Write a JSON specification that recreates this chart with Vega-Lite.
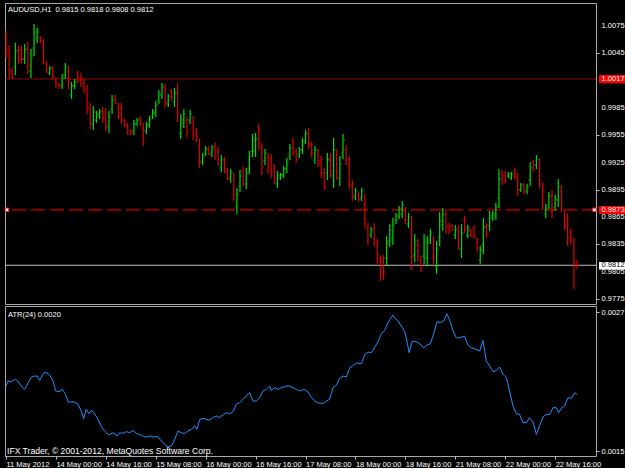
{
"$schema": "https://vega.github.io/schema/vega-lite/v6.json",
"background": "#000000",
"padding": {"left": 2, "top": 2, "right": 0, "bottom": 0},
"spacing": 2,
"bounds": "flush",
"config": {"view": {"stroke": "#a8a8a8", "fill": "#000000"}, "font": "Liberation Sans",
  "axis": {"labelOverlap": false, "labelFlush": false, "labelBound": false, "grid": false, "domain": false, "title": null, "tickSize": 3, "tickColor": "#c0c0c0", "labelColor": "#ffffff", "labelFontSize": 7.5}},
"datasets": {
"bars": [
{"i":0,"o":1.0062,"h":1.00697,"l":1.004,"c":1.00477},
{"i":1,"o":1.00444,"h":1.00532,"l":1.00169,"c":1.00257},
{"i":2,"o":1.00257,"h":1.0029,"l":1.00169,"c":1.00202},
{"i":3,"o":1.00301,"h":1.00565,"l":1.00213,"c":1.00477},
{"i":4,"o":1.00488,"h":1.00532,"l":1.00334,"c":1.00378},
{"i":5,"o":1.00488,"h":1.00532,"l":1.00345,"c":1.00389},
{"i":6,"o":1.00389,"h":1.00554,"l":1.00334,"c":1.00499},
{"i":7,"o":1.00488,"h":1.00576,"l":1.00224,"c":1.00312},
{"i":8,"o":1.00257,"h":1.00499,"l":1.0018,"c":1.00422},
{"i":9,"o":1.0051,"h":1.00774,"l":1.00422,"c":1.00686},
{"i":10,"o":1.00609,"h":1.0073,"l":1.00565,"c":1.00686},
{"i":11,"o":1.0062,"h":1.00642,"l":1.00565,"c":1.00587},
{"i":12,"o":1.00543,"h":1.00609,"l":1.00334,"c":1.004},
{"i":13,"o":1.00334,"h":1.00367,"l":1.00235,"c":1.00268},
{"i":14,"o":1.00235,"h":1.00312,"l":1.00213,"c":1.0029},
{"i":15,"o":1.00279,"h":1.00312,"l":1.00169,"c":1.00202},
{"i":16,"o":1.00147,"h":1.0018,"l":1.0007,"c":1.00103},
{"i":17,"o":1.00103,"h":1.00125,"l":1.00059,"c":1.00081},
{"i":18,"o":1.00103,"h":1.00224,"l":1.00059,"c":1.0018},
{"i":19,"o":1.00213,"h":1.00345,"l":1.00169,"c":1.00301},
{"i":20,"o":1.00246,"h":1.00312,"l":1.00059,"c":1.00125},
{"i":21,"o":0.99993,"h":1.00136,"l":0.99949,"c":1.00092},
{"i":22,"o":1.00092,"h":1.00169,"l":1.00059,"c":1.00136},
{"i":23,"o":1.00224,"h":1.00257,"l":1.00125,"c":1.00158},
{"i":24,"o":1.00191,"h":1.00235,"l":1.00081,"c":1.00125},
{"i":25,"o":1.00125,"h":1.00169,"l":1.00015,"c":1.00059},
{"i":26,"o":1.00026,"h":1.00103,"l":0.99784,"c":0.99861},
{"i":27,"o":0.99828,"h":0.99905,"l":0.99619,"c":0.99696},
{"i":28,"o":0.99674,"h":0.99872,"l":0.99608,"c":0.99806},
{"i":29,"o":0.99718,"h":0.99817,"l":0.99685,"c":0.99784},
{"i":30,"o":0.99762,"h":0.99839,"l":0.99729,"c":0.99806},
{"i":31,"o":0.99817,"h":0.99861,"l":0.99685,"c":0.99729},
{"i":32,"o":0.99784,"h":0.9985,"l":0.99597,"c":0.99663},
{"i":33,"o":0.99641,"h":0.99817,"l":0.99575,"c":0.99751},
{"i":34,"o":0.99839,"h":0.99993,"l":0.99784,"c":0.99938},
{"i":35,"o":0.99971,"h":0.99993,"l":0.99894,"c":0.99916},
{"i":36,"o":0.99861,"h":0.99905,"l":0.99729,"c":0.99773},
{"i":37,"o":0.9985,"h":0.99905,"l":0.99674,"c":0.99729},
{"i":38,"o":0.99707,"h":0.99729,"l":0.99641,"c":0.99663},
{"i":39,"o":0.99652,"h":0.99685,"l":0.99553,"c":0.99586},
{"i":40,"o":0.99597,"h":0.99619,"l":0.99553,"c":0.99575},
{"i":41,"o":0.99597,"h":0.99718,"l":0.99553,"c":0.99674},
{"i":42,"o":0.99674,"h":0.9974,"l":0.99652,"c":0.99718},
{"i":43,"o":0.99729,"h":0.99762,"l":0.99652,"c":0.99685},
{"i":44,"o":0.99619,"h":0.99685,"l":0.99432,"c":0.99498},
{"i":45,"o":0.99597,"h":0.99696,"l":0.99564,"c":0.99663},
{"i":46,"o":0.99663,"h":0.99762,"l":0.9963,"c":0.99729},
{"i":47,"o":0.99762,"h":0.99839,"l":0.99729,"c":0.99806},
{"i":48,"o":0.99795,"h":0.99927,"l":0.99751,"c":0.99883},
{"i":49,"o":0.99938,"h":1.00048,"l":0.99894,"c":1.00004},
{"i":50,"o":0.99993,"h":1.00125,"l":0.99949,"c":1.00081},
{"i":51,"o":1.00048,"h":1.00114,"l":0.9985,"c":0.99916},
{"i":52,"o":0.99894,"h":1.00004,"l":0.99861,"c":0.99971},
{"i":53,"o":1.00026,"h":1.00059,"l":0.99927,"c":0.9996},
{"i":54,"o":0.99916,"h":1.0007,"l":0.99861,"c":1.00015},
{"i":55,"o":1.00015,"h":1.00125,"l":0.99696,"c":0.99806},
{"i":56,"o":0.99575,"h":0.99784,"l":0.99509,"c":0.99718},
{"i":57,"o":0.99685,"h":0.99839,"l":0.9963,"c":0.99784},
{"i":58,"o":0.99707,"h":0.99762,"l":0.99531,"c":0.99586},
{"i":59,"o":0.99718,"h":0.99828,"l":0.99674,"c":0.99784},
{"i":60,"o":0.99696,"h":0.99762,"l":0.99498,"c":0.99564},
{"i":61,"o":0.99586,"h":0.9963,"l":0.99476,"c":0.9952},
{"i":62,"o":0.99432,"h":0.99509,"l":0.9919,"c":0.99267},
{"i":63,"o":0.99256,"h":0.99355,"l":0.99223,"c":0.99322},
{"i":64,"o":0.99355,"h":0.99432,"l":0.99322,"c":0.99399},
{"i":65,"o":0.9941,"h":0.99432,"l":0.99333,"c":0.99355},
{"i":66,"o":0.99344,"h":0.99443,"l":0.99311,"c":0.9941},
{"i":67,"o":0.99432,"h":0.99476,"l":0.99278,"c":0.99322},
{"i":68,"o":0.99366,"h":0.99421,"l":0.99212,"c":0.99267},
{"i":69,"o":0.9919,"h":0.99333,"l":0.99146,"c":0.99289},
{"i":70,"o":0.99267,"h":0.99311,"l":0.99135,"c":0.99179},
{"i":71,"o":0.99157,"h":0.9919,"l":0.99058,"c":0.99091},
{"i":72,"o":0.99069,"h":0.99179,"l":0.99025,"c":0.99135},
{"i":73,"o":0.99058,"h":0.99135,"l":0.98827,"c":0.98904},
{"i":74,"o":0.98761,"h":0.9897,"l":0.98684,"c":0.98893},
{"i":75,"o":0.98992,"h":0.99168,"l":0.98926,"c":0.99102},
{"i":76,"o":0.99157,"h":0.99212,"l":0.98992,"c":0.99047},
{"i":77,"o":0.99014,"h":0.9919,"l":0.98959,"c":0.99135},
{"i":78,"o":0.9919,"h":0.99377,"l":0.99124,"c":0.99311},
{"i":79,"o":0.99377,"h":0.99564,"l":0.99311,"c":0.99498},
{"i":80,"o":0.99377,"h":0.99575,"l":0.99311,"c":0.99509},
{"i":81,"o":0.99597,"h":0.99674,"l":0.99388,"c":0.99465},
{"i":82,"o":0.99377,"h":0.99465,"l":0.99113,"c":0.99201},
{"i":83,"o":0.99267,"h":0.99399,"l":0.99223,"c":0.99355},
{"i":84,"o":0.993,"h":0.99355,"l":0.99124,"c":0.99179},
{"i":85,"o":0.99278,"h":0.99344,"l":0.9908,"c":0.99146},
{"i":86,"o":0.99179,"h":0.99234,"l":0.99014,"c":0.99069},
{"i":87,"o":0.99014,"h":0.99157,"l":0.9897,"c":0.99113},
{"i":88,"o":0.9908,"h":0.99135,"l":0.99058,"c":0.99113},
{"i":89,"o":0.99113,"h":0.99212,"l":0.9908,"c":0.99179},
{"i":90,"o":0.99179,"h":0.993,"l":0.99135,"c":0.99256},
{"i":91,"o":0.99322,"h":0.99454,"l":0.99278,"c":0.9941},
{"i":92,"o":0.99476,"h":0.9952,"l":0.99322,"c":0.99366},
{"i":93,"o":0.99366,"h":0.9941,"l":0.99245,"c":0.99289},
{"i":94,"o":0.99333,"h":0.99421,"l":0.993,"c":0.99388},
{"i":95,"o":0.99388,"h":0.9952,"l":0.99344,"c":0.99476},
{"i":96,"o":0.99498,"h":0.99608,"l":0.99454,"c":0.99564},
{"i":97,"o":0.99575,"h":0.9963,"l":0.99399,"c":0.99454},
{"i":98,"o":0.99432,"h":0.99476,"l":0.993,"c":0.99344},
{"i":99,"o":0.99278,"h":0.99432,"l":0.99234,"c":0.99388},
{"i":100,"o":0.99355,"h":0.99399,"l":0.99201,"c":0.99245},
{"i":101,"o":0.99267,"h":0.99322,"l":0.9908,"c":0.99135},
{"i":102,"o":0.99135,"h":0.9919,"l":0.98948,"c":0.99003},
{"i":103,"o":0.99135,"h":0.99355,"l":0.99058,"c":0.99278},
{"i":104,"o":0.99289,"h":0.99355,"l":0.9908,"c":0.99146},
{"i":105,"o":0.99102,"h":0.9952,"l":0.9897,"c":0.99388},
{"i":106,"o":0.99311,"h":0.99399,"l":0.99058,"c":0.99146},
{"i":107,"o":0.9908,"h":0.99322,"l":0.98992,"c":0.99234},
{"i":108,"o":0.99355,"h":0.99564,"l":0.99289,"c":0.99498},
{"i":109,"o":0.99388,"h":0.99443,"l":0.99223,"c":0.99278},
{"i":110,"o":0.99234,"h":0.99322,"l":0.98959,"c":0.99047},
{"i":111,"o":0.99003,"h":0.99058,"l":0.98827,"c":0.98882},
{"i":112,"o":0.98871,"h":0.9897,"l":0.98838,"c":0.98937},
{"i":113,"o":0.98893,"h":0.98926,"l":0.98816,"c":0.98849},
{"i":114,"o":0.9886,"h":0.9897,"l":0.98827,"c":0.98937},
{"i":115,"o":0.98805,"h":0.98904,"l":0.9853,"c":0.98629},
{"i":116,"o":0.9853,"h":0.98585,"l":0.98343,"c":0.98398},
{"i":117,"o":0.98453,"h":0.98541,"l":0.9842,"c":0.98508},
{"i":118,"o":0.98519,"h":0.98585,"l":0.98332,"c":0.98398},
{"i":119,"o":0.98343,"h":0.98409,"l":0.98134,"c":0.982},
{"i":120,"o":0.98156,"h":0.98233,"l":0.97947,"c":0.98024},
{"i":121,"o":0.98167,"h":0.98233,"l":0.97958,"c":0.98024},
{"i":122,"o":0.982,"h":0.98442,"l":0.98112,"c":0.98354},
{"i":123,"o":0.98387,"h":0.98574,"l":0.98321,"c":0.98508},
{"i":124,"o":0.9842,"h":0.9864,"l":0.98343,"c":0.98563},
{"i":125,"o":0.98607,"h":0.98695,"l":0.98574,"c":0.98662},
{"i":126,"o":0.98662,"h":0.98772,"l":0.98629,"c":0.98739},
{"i":127,"o":0.98684,"h":0.98827,"l":0.9864,"c":0.98783},
{"i":128,"o":0.98717,"h":0.98761,"l":0.98574,"c":0.98618},
{"i":129,"o":0.98574,"h":0.98695,"l":0.9853,"c":0.98651},
{"i":130,"o":0.98519,"h":0.98662,"l":0.98068,"c":0.98211},
{"i":131,"o":0.98233,"h":0.98464,"l":0.98156,"c":0.98387},
{"i":132,"o":0.98343,"h":0.98409,"l":0.98156,"c":0.98222},
{"i":133,"o":0.98178,"h":0.98222,"l":0.98046,"c":0.9809},
{"i":134,"o":0.98222,"h":0.98464,"l":0.98134,"c":0.98376},
{"i":135,"o":0.982,"h":0.98442,"l":0.98123,"c":0.98365},
{"i":136,"o":0.98398,"h":0.98519,"l":0.98354,"c":0.98475},
{"i":137,"o":0.98365,"h":0.98442,"l":0.98134,"c":0.98211},
{"i":138,"o":0.98112,"h":0.98387,"l":0.98024,"c":0.98299},
{"i":139,"o":0.98431,"h":0.98706,"l":0.98332,"c":0.98607},
{"i":140,"o":0.98563,"h":0.9875,"l":0.98497,"c":0.98684},
{"i":141,"o":0.98673,"h":0.98739,"l":0.98464,"c":0.9853},
{"i":142,"o":0.98552,"h":0.98585,"l":0.98464,"c":0.98497},
{"i":143,"o":0.98552,"h":0.98574,"l":0.98497,"c":0.98519},
{"i":144,"o":0.98453,"h":0.98563,"l":0.98409,"c":0.98519},
{"i":145,"o":0.98497,"h":0.98563,"l":0.98288,"c":0.98354},
{"i":146,"o":0.98299,"h":0.98574,"l":0.982,"c":0.98475},
{"i":147,"o":0.98618,"h":0.98662,"l":0.98475,"c":0.98519},
{"i":148,"o":0.98453,"h":0.98563,"l":0.9842,"c":0.9853},
{"i":149,"o":0.98497,"h":0.98519,"l":0.98431,"c":0.98453},
{"i":150,"o":0.98519,"h":0.98563,"l":0.98409,"c":0.98453},
{"i":151,"o":0.98376,"h":0.9842,"l":0.98266,"c":0.9831},
{"i":152,"o":0.98178,"h":0.98332,"l":0.98134,"c":0.98288},
{"i":153,"o":0.98343,"h":0.9864,"l":0.98244,"c":0.98541},
{"i":154,"o":0.98541,"h":0.98585,"l":0.9842,"c":0.98464},
{"i":155,"o":0.98552,"h":0.98717,"l":0.98497,"c":0.98662},
{"i":156,"o":0.9864,"h":0.98717,"l":0.98607,"c":0.98684},
{"i":157,"o":0.98662,"h":0.98805,"l":0.98618,"c":0.98761},
{"i":158,"o":0.9886,"h":0.99179,"l":0.9875,"c":0.99069},
{"i":159,"o":0.99124,"h":0.99168,"l":0.99003,"c":0.99047},
{"i":160,"o":0.99124,"h":0.99157,"l":0.99025,"c":0.99058},
{"i":161,"o":0.99102,"h":0.99146,"l":0.9908,"c":0.99124},
{"i":162,"o":0.9908,"h":0.99146,"l":0.99058,"c":0.99124},
{"i":163,"o":0.99157,"h":0.9919,"l":0.99069,"c":0.99102},
{"i":164,"o":0.99069,"h":0.99135,"l":0.98882,"c":0.98948},
{"i":165,"o":0.98948,"h":0.99025,"l":0.98926,"c":0.99003},
{"i":166,"o":0.98992,"h":0.99025,"l":0.98904,"c":0.98937},
{"i":167,"o":0.98937,"h":0.99014,"l":0.98904,"c":0.98981},
{"i":168,"o":0.99058,"h":0.99256,"l":0.98992,"c":0.9919},
{"i":169,"o":0.99245,"h":0.99278,"l":0.99146,"c":0.99179},
{"i":170,"o":0.99223,"h":0.99333,"l":0.99179,"c":0.99289},
{"i":171,"o":0.99212,"h":0.993,"l":0.9897,"c":0.99058},
{"i":172,"o":0.98948,"h":0.99025,"l":0.98728,"c":0.98805},
{"i":173,"o":0.98684,"h":0.98794,"l":0.9864,"c":0.9875},
{"i":174,"o":0.98783,"h":0.98926,"l":0.98739,"c":0.98882},
{"i":175,"o":0.98871,"h":0.98948,"l":0.9864,"c":0.98717},
{"i":176,"o":0.98761,"h":0.98893,"l":0.98717,"c":0.98849},
{"i":177,"o":0.98838,"h":0.99069,"l":0.98761,"c":0.98992},
{"i":178,"o":0.98926,"h":0.99003,"l":0.98706,"c":0.98783},
{"i":179,"o":0.98662,"h":0.98717,"l":0.98508,"c":0.98563},
{"i":180,"o":0.98596,"h":0.98684,"l":0.98332,"c":0.9842},
{"i":181,"o":0.98475,"h":0.98519,"l":0.98354,"c":0.98398},
{"i":182,"o":0.98277,"h":0.9842,"l":0.97859,"c":0.9815},
{"i":183,"o":0.9815,"h":0.9818,"l":0.9808,"c":0.9812}
],
"atr": [
{"i":0,"a":0.002061},{"i":0.6,"a":0.002104},{"i":1.7,"a":0.002098},{"i":3,"a":0.002119},{"i":3.8,"a":0.002104},{"i":4.9,"a":0.002061},{"i":6,"a":0.002032},{"i":7.1,"a":0.00209},{"i":8.1,"a":0.002139},{"i":9.2,"a":0.002147},{"i":10,"a":0.002147},{"i":10.8,"a":0.00211},{"i":12.1,"a":0.002176},{"i":12.9,"a":0.002176},{"i":14,"a":0.002156},{"i":15.1,"a":0.002104},{"i":15.9,"a":0.002018},{"i":17,"a":0.002012},{"i":18.1,"a":0.002032},{"i":19.1,"a":0.001989},{"i":19.9,"a":0.001923},{"i":20.9,"a":0.001923},{"i":22,"a":0.001923},{"i":23.1,"a":0.001903},{"i":24.1,"a":0.001845},{"i":24.9,"a":0.001779},{"i":25.7,"a":0.00186},{"i":26.6,"a":0.001822},{"i":27.4,"a":0.001851},{"i":28.4,"a":0.001822},{"i":29.5,"a":0.001773},{"i":30.6,"a":0.001707},{"i":31.6,"a":0.001673},{"i":33,"a":0.001638},{"i":34.3,"a":0.001658},{"i":35.6,"a":0.00163},{"i":36.4,"a":0.001658},{"i":37.5,"a":0.001653},{"i":38.6,"a":0.001667},{"i":39.6,"a":0.001658},{"i":40.9,"a":0.001678},{"i":41.8,"a":0.00165},{"i":42.8,"a":0.001644},{"i":44.1,"a":0.001624},{"i":45.2,"a":0.001621},{"i":46.3,"a":0.00163},{"i":47.3,"a":0.001621},{"i":48.7,"a":0.001624},{"i":49.8,"a":0.001586},{"i":50.9,"a":0.001558},{"i":51.9,"a":0.001535},{"i":53,"a":0.001543},{"i":54.1,"a":0.001601},{"i":55.1,"a":0.001673},{"i":56.2,"a":0.001658},{"i":57.3,"a":0.00165},{"i":58.3,"a":0.001673},{"i":59.4,"a":0.001687},{"i":60.5,"a":0.001716},{"i":61.2,"a":0.001687},{"i":62.1,"a":0.001773},{"i":63.1,"a":0.001782},{"i":64.2,"a":0.001773},{"i":65.3,"a":0.001768},{"i":66.3,"a":0.001788},{"i":67.4,"a":0.001802},{"i":68.5,"a":0.001788},{"i":69.6,"a":0.001811},{"i":70.6,"a":0.001831},{"i":71.7,"a":0.001822},{"i":72.8,"a":0.00184},{"i":73.8,"a":0.001903},{"i":74.9,"a":0.001917},{"i":76,"a":0.001946},{"i":77,"a":0.001975},{"i":78.1,"a":0.002004},{"i":79.2,"a":0.001932},{"i":80.2,"a":0.001932},{"i":81.3,"a":0.00196},{"i":82.4,"a":0.002018},{"i":83.4,"a":0.002032},{"i":84.5,"a":0.002061},{"i":85,"a":0.002024},{"i":86.1,"a":0.002047},{"i":87.2,"a":0.002032},{"i":88.2,"a":0.002047},{"i":89.9,"a":0.002061},{"i":90.9,"a":0.002061},{"i":92,"a":0.002047},{"i":93.1,"a":0.002032},{"i":94.1,"a":0.002018},
{"i":95.7,"a":0.002032},{"i":96.8,"a":0.002009},{"i":97.9,"a":0.00196},{"i":99,"a":0.001932},{"i":100,"a":0.001914},{"i":101.6,"a":0.001911},{"i":102.7,"a":0.001932},{"i":103.7,"a":0.001946},{"i":104.8,"a":0.002047},{"i":105.9,"a":0.002067},{"i":106.9,"a":0.002127},{"i":108,"a":0.002147},{"i":109.1,"a":0.002139},{"i":110.1,"a":0.002214},{"i":111.2,"a":0.002237},{"i":112.3,"a":0.00226},{"i":113.9,"a":0.002254},{"i":115,"a":0.002334},{"i":116,"a":0.002354},{"i":117.1,"a":0.002349},{"i":118.2,"a":0.002398},{"i":119.2,"a":0.002441},{"i":120.3,"a":0.002513},{"i":121.4,"a":0.002541},{"i":122.4,"a":0.002608},{"i":124,"a":0.002674},{"i":124.6,"a":0.002651},{"i":125.6,"a":0.002622},{"i":126.7,"a":0.002579},{"i":127.8,"a":0.00253},{"i":128.5,"a":0.002449},{"i":129.2,"a":0.002349},{"i":130.2,"a":0.002449},{"i":131.5,"a":0.002444},{"i":132.6,"a":0.002426},{"i":133.9,"a":0.002392},{"i":134.9,"a":0.002415},{"i":136,"a":0.002426},{"i":137.1,"a":0.002513},{"i":138.1,"a":0.002616},{"i":139.2,"a":0.002608},{"i":140.3,"a":0.002622},{"i":141.3,"a":0.002685},{"i":142.2,"a":0.002628},{"i":143.3,"a":0.002536},{"i":144.3,"a":0.002478},{"i":145.4,"a":0.002478},{"i":147,"a":0.002493},{"i":148,"a":0.002415},{"i":149.1,"a":0.002392},{"i":150.7,"a":0.002378},{"i":151.8,"a":0.002363},{"i":152.9,"a":0.002455},{"i":153.9,"a":0.002277},{"i":155,"a":0.002234},{"i":156.1,"a":0.002185},{"i":157.2,"a":0.002196},{"i":158.2,"a":0.002225},{"i":159.3,"a":0.002162},{"i":160.4,"a":0.002133},{"i":161.4,"a":0.002018},{"i":162.5,"a":0.001888},{"i":163.6,"a":0.001822},{"i":164.6,"a":0.001816},{"i":165.7,"a":0.001745},{"i":166.8,"a":0.001745},{"i":167.8,"a":0.001788},{"i":168.9,"a":0.00175},{"i":170,"a":0.001644},{"i":171,"a":0.001716},{"i":172.1,"a":0.001794},{"i":173.2,"a":0.001816},{"i":174.3,"a":0.001816},{"i":175.3,"a":0.001874},{"i":176.4,"a":0.001874},{"i":177.1,"a":0.001831},{"i":178,"a":0.001868},{"i":179,"a":0.001888},{"i":180.1,"a":0.00196},{"i":181.2,"a":0.001955},{"i":182.3,"a":0.002004},{"i":183,"a":0.001989}
],
"pricelabels": [{"p":1.0075},{"p":1.0045},{"p":0.9985},{"p":0.9955},{"p":0.9925},{"p":0.9895},{"p":0.9865},{"p":0.9835},{"p":0.9805},{"p":0.9775}]
},
"vconcat": [
{
"width": 591, "height": 301,
"data": {"name": "bars"},
"layer": [
{"data": {"values": [{}]}, "mark": {"type": "rule", "color": "#e00000", "strokeWidth": 1, "strokeDash": [2, 1.2]},
 "encoding": {"y": {"datum": 1.0017, "type": "quantitative", "scale": {"domain": [0.97694, 1.01005], "nice": false, "zero": false},
   "axis": {"orient": "right", "values": [1.0075, 1.0045, 0.9985, 0.9955, 0.9925, 0.9895, 0.9865, 0.9835, 0.9805, 0.9775], "labels": false, "title": null, "domain": false, "grid": false, "tickSize": 3}}}},
{"data": {"values": [{}]}, "mark": {"type": "rule", "color": "#8b0000", "strokeWidth": 2, "strokeDash": [14, 5]}, "encoding": {"y": {"datum": 0.9873}}},
{"data": {"values": [{}]}, "mark": {"type": "rule", "color": "#c0c0c0", "strokeWidth": 1}, "encoding": {"y": {"datum": 0.9812}}},
{"mark": {"type": "rule", "strokeWidth": 1.2},
 "encoding": {
  "x": {"field": "i", "type": "quantitative", "scale": {"domain": [-0.32, 189.1], "nice": false, "zero": false}, "axis": null},
  "y": {"field": "l", "type": "quantitative"},
  "y2": {"field": "h"},
  "color": {"condition": {"test": "datum.c >= datum.o", "value": "#00dd00"}, "value": "#e00000"}
 }},
{"mark": {"type": "tick", "orient": "horizontal", "size": 1.6, "thickness": 1, "xOffset": -1.3},
 "encoding": {"x": {"field": "i", "type": "quantitative"}, "y": {"field": "o", "type": "quantitative"},
  "color": {"condition": {"test": "datum.c >= datum.o", "value": "#00dd00"}, "value": "#e00000"}}},
{"mark": {"type": "tick", "orient": "horizontal", "size": 1.6, "thickness": 1, "xOffset": 1.3},
 "encoding": {"x": {"field": "i", "type": "quantitative"}, "y": {"field": "c", "type": "quantitative"},
  "color": {"condition": {"test": "datum.c >= datum.o", "value": "#00dd00"}, "value": "#e00000"}}},
{"data": {"values": [{}]}, "mark": {"type": "square", "size": 12, "fill": "#ffffff", "stroke": "#ff2020", "strokeWidth": 1, "opacity": 1, "filled": true}, "encoding": {"x": {"datum": 0.3}, "y": {"datum": 0.9873}}},
{"data": {"values": [{}]}, "mark": {"type": "square", "size": 12, "fill": "#ffffff", "stroke": "#ff2020", "strokeWidth": 1, "opacity": 1, "filled": true}, "encoding": {"x": {"datum": 188.6}, "y": {"datum": 0.9873}}},
{"data": {"name": "pricelabels"}, "mark": {"type": "text", "align": "left", "baseline": "middle", "fontSize": 7.5, "color": "#ffffff"}, "encoding": {"x": {"datum": 190.9}, "y": {"field": "p", "type": "quantitative"}, "text": {"field": "p", "type": "quantitative", "format": ".4f"}}},
{"data": {"values": [{}]}, "mark": {"type": "rect", "color": "#ff0000"}, "encoding": {"x": {"datum": 190.06}, "x2": {"datum": 198.6}, "y": {"datum": 1.00213}, "y2": {"datum": 1.00122}}},
{"data": {"values": [{}]}, "mark": {"type": "rect", "color": "#ff0000"}, "encoding": {"x": {"datum": 190.06}, "x2": {"datum": 198.6}, "y": {"datum": 0.98772}, "y2": {"datum": 0.98684}}},
{"data": {"values": [{}]}, "mark": {"type": "rect", "color": "#ffffff"}, "encoding": {"x": {"datum": 190.06}, "x2": {"datum": 198.6}, "y": {"datum": 0.98156}, "y2": {"datum": 0.98073}}},
{"data": {"values": [{}]}, "mark": {"type": "text", "align": "left", "baseline": "middle", "fontSize": 7.5, "color": "#ffffff"}, "encoding": {"x": {"datum": 190.9}, "y": {"datum": 1.0017}, "text": {"value": "1.0017"}}},
{"data": {"values": [{}]}, "mark": {"type": "text", "align": "left", "baseline": "middle", "fontSize": 7.5, "color": "#ffffff"}, "encoding": {"x": {"datum": 190.9}, "y": {"datum": 0.9873}, "text": {"value": "0.9873"}}},
{"data": {"values": [{}]}, "mark": {"type": "text", "align": "left", "baseline": "middle", "fontSize": 7.5, "color": "#000000"}, "encoding": {"x": {"datum": 190.9}, "y": {"datum": 0.9812}, "text": {"value": "0.9812"}}},
{"data": {"values": [{}]}, "mark": {"type": "text", "align": "left", "baseline": "alphabetic", "fontSize": 7.5, "color": "#ffffff"}, "encoding": {"x": {"datum": 0.64}, "y": {"datum": 1.00906}, "text": {"value": "AUDUSD,H1\u00a0 0.9815 0.9818 0.9808 0.9812"}}}
]
},
{
"width": 591, "height": 150,
"data": {"name": "atr"},
"layer": [
{"mark": {"type": "line", "color": "#1e90ff", "strokeWidth": 1},
 "encoding": {
  "x": {"field": "i", "type": "quantitative", "scale": {"domain": [-0.32, 189.1], "nice": false, "zero": false},
        "axis": {"values": [0, 16, 32, 48, 64, 80, 96, 112, 128, 144, 160, 176], "labelExpr": "['11 May 2012','14 May 00:00','14 May 16:00','15 May 08:00','16 May 00:00','16 May 16:00','17 May 08:00','18 May 00:00','18 May 16:00','21 May 08:00','22 May 00:00','22 May 16:00'][round(datum.value/16)]", "title": null, "domain": false, "grid": false, "tickSize": 3, "labelPadding": 1, "labelAlign": "left", "labelOffset": 0, "labelBound": false, "labelOverlap": false, "labelFlush": false}},
  "y": {"field": "a", "type": "quantitative", "scale": {"domain": [0.001457, 0.002752], "nice": false, "zero": false},
        "axis": {"orient": "right", "values": [0.0027, 0.0015], "format": ".4f", "title": null, "domain": false, "grid": false, "tickSize": 3, "labelPadding": 2, "labelBound": false, "labelOverlap": false, "labelFlush": false}}
 }},
{"data": {"values": [{}]}, "mark": {"type": "text", "align": "left", "baseline": "alphabetic", "fontSize": 7.5, "color": "#ffffff"}, "encoding": {"x": {"datum": 0.64}, "y": {"datum": 0.002657}, "text": {"value": "ATR(24) 0.0020"}}},
{"data": {"values": [{}]}, "mark": {"type": "text", "align": "left", "baseline": "alphabetic", "fontSize": 8.6, "color": "#ffffff"}, "encoding": {"x": {"datum": 0.32}, "y": {"datum": 0.001474}, "text": {"value": "IFX Trader, © 2001-2012, MetaQuotes Software Corp."}}}
]
}
]
}
